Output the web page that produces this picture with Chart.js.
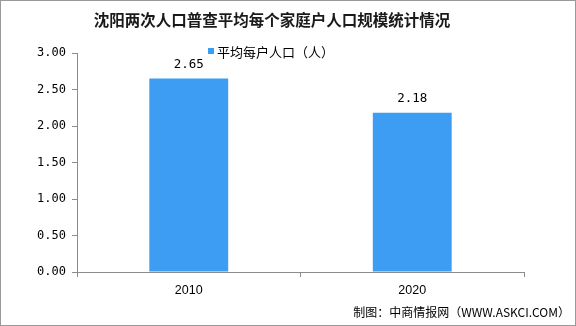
<!DOCTYPE html>
<html>
<head>
<meta charset="utf-8">
<script src="https://cdn.jsdelivr.net/npm/chart.js@4/dist/chart.umd.min.js"></script>
<style>
  html, body { margin: 0; padding: 0; background: #fff; }
  #wrap { width: 576px; height: 326px; }
</style>
</head>
<body>
<div id="wrap"><canvas id="c" width="576" height="326"></canvas></div>
<script>
const years = ["2010", "2020"];
const avgHousehold = [2.65, 2.18];
const seriesName = "平均每户人口（人）";
const titleText = "沈阳两次人口普查平均每个家庭户人口规模统计情况";
const footerText = "制图：中商情报网（WWW.ASKCI.COM）";

const barColor = "#3D9DF2";
const axisColor = "#8c8c8c";

// title, legend, footer, value labels and outer frame
const decorations = {
  id: "decorations",
  afterDraw(chart) {
    const ctx = chart.ctx;
    ctx.save();

    ctx.fillStyle = "#1a1a1a";
    ctx.font = "bold 15.5px 'Noto Sans CJK SC'";
    ctx.textAlign = "center";
    ctx.textBaseline = "middle";
    ctx.fillText(titleText, 272, 20);

    ctx.fillStyle = barColor;
    ctx.fillRect(208, 48, 6, 6);
    ctx.fillStyle = "#000";
    ctx.font = "13px 'Noto Sans CJK SC'";
    ctx.textAlign = "left";
    ctx.fillText(seriesName, 217, 52);

    ctx.font = "12px 'Noto Sans CJK SC'";
    ctx.textAlign = "right";
    ctx.fillText(footerText, 570, 312);

    const meta = chart.getDatasetMeta(0);
    ctx.font = "12.5px 'DejaVu Sans Mono'";
    ctx.textAlign = "center";
    meta.data.forEach((bar, i) => {
      ctx.fillText(avgHousehold[i].toFixed(2), bar.x, bar.y - 14);
    });

    ctx.strokeStyle = "#999";
    ctx.lineWidth = 1;
    ctx.strokeRect(0.5, 0.5, 575, 325);
    ctx.restore();
  },
};

new Chart(document.getElementById("c"), {
  type: "bar",
  data: {
    labels: years,
    datasets: [
      {
        label: seriesName,
        data: avgHousehold,
        backgroundColor: barColor,
        categoryPercentage: 1,
        barPercentage: 0.353,
      },
    ],
  },
  options: {
    responsive: false,
    animation: false,
    layout: { padding: { top: 53, right: 52, left: 0, bottom: 0 } },
    plugins: {
      legend: { display: false },
      title: { display: false },
      tooltip: { enabled: false },
    },
    scales: {
      x: {
        afterFit: (s) => { s.height = 54; },
        grid: {
          drawOnChartArea: false,
          tickLength: 5,
          color: axisColor,
        },
        border: { color: axisColor },
        ticks: {
          color: "#000",
          padding: 6,
          font: { family: "Liberation Sans", size: 12.5 },
        },
      },
      y: {
        min: 0,
        max: 3,
        afterFit: (s) => { s.width = 77; },
        grid: {
          drawOnChartArea: false,
          tickLength: 5,
          color: axisColor,
        },
        border: { color: axisColor },
        ticks: {
          stepSize: 0.5,
          color: "#000",
          padding: 6,
          font: { family: "DejaVu Sans Mono", size: 12 },
          callback: (v) => Number(v).toFixed(2),
        },
      },
    },
  },
  plugins: [decorations],
});
</script>
</body>
</html>
